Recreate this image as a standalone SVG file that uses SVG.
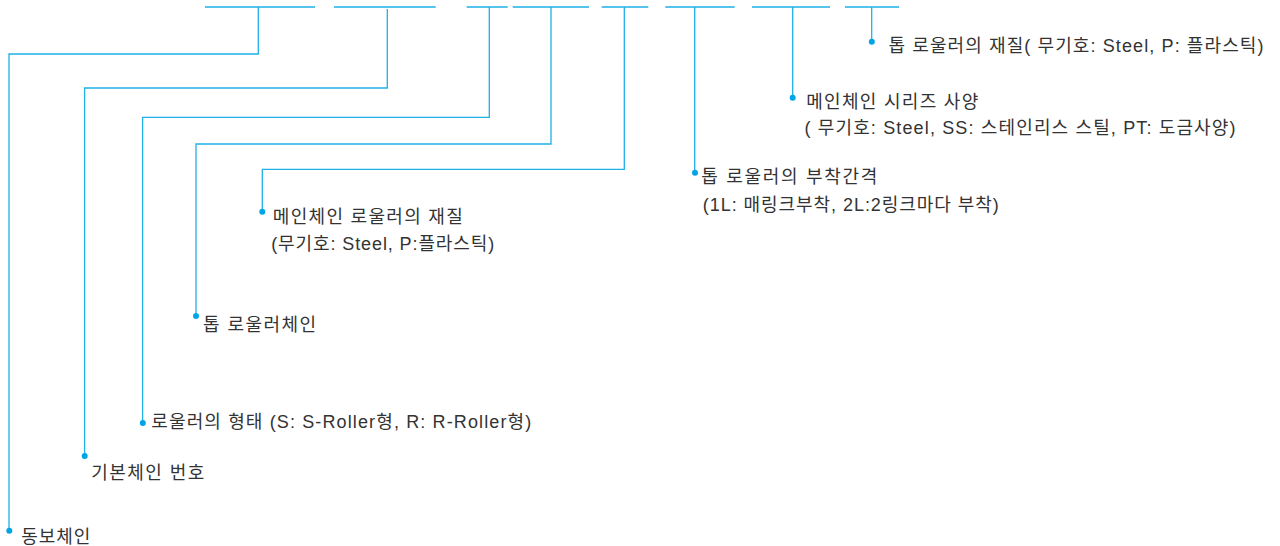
<svg xmlns="http://www.w3.org/2000/svg" width="1280" height="546" viewBox="0 0 1280 546">
<style>
.ln{fill:none;stroke:#1fb0e8;stroke-width:1.3}
.dot{fill:#00a5e6}
.t{font-family:"Liberation Sans","Noto Sans CJK KR",sans-serif;font-size:18px;fill:#333}
</style>
<rect width="1280" height="546" fill="#fff"/>
<g id="connectors">
<path class="ln" d="M205 7H315M334 7H435.7M466.7 7H507.7M512.7 7H589M601.7 7H648.3M665.3 7H734.7M752 7H830M845 7H899"/>
<path class="ln" d="M258.3 7V54H9V530.7"/>
<path class="ln" d="M387.3 9V88H84.6V456"/>
<path class="ln" d="M489.3 7V117.3H142.6V423"/>
<path class="ln" d="M551 7V144H196V316"/>
<path class="ln" d="M624.3 7V169.3H262.3V211.7"/>
<path class="ln" d="M694.7 7V172.7"/>
<path class="ln" d="M792.7 7V97.7"/>
<path class="ln" d="M871.7 7V41.7"/>
</g>
<g id="n1"><circle class="dot" cx="871.8" cy="41.7" r="3"/><text class="t" x="888.5" y="52" textLength="375">톱 로울러의 재질( 무기호: Steel, P: 플라스틱)</text></g>
<g id="n2"><circle class="dot" cx="792.7" cy="97.7" r="3"/><text class="t" x="806.2" y="108" textLength="172">메인체인 시리즈 사양</text><text class="t" x="804.5" y="134" textLength="431">( 무기호: Steel, SS: 스테인리스 스틸, PT: 도금사양)</text></g>
<g id="n3"><circle class="dot" cx="695" cy="172.7" r="3"/><text class="t" x="701.2" y="183" textLength="176">톱 로울러의 부착간격</text><text class="t" x="702.8" y="211" textLength="296">(1L: 매링크부착, 2L:2링크마다 부착)</text></g>
<g id="n4"><circle class="dot" cx="262.3" cy="211.7" r="3"/><text class="t" x="272.8" y="223" textLength="190">메인체인 로울러의 재질</text><text class="t" x="271.2" y="250" textLength="223">(무기호: Steel, P:플라스틱)</text></g>
<g id="n5"><circle class="dot" cx="196" cy="316" r="3"/><text class="t" x="203.1" y="331" textLength="113">톱 로울러체인</text></g>
<g id="n6"><circle class="dot" cx="142.8" cy="423" r="3"/><text class="t" x="151.3" y="428" textLength="380">로울러의 형태 (S: S-Roller형, R: R-Roller형)</text></g>
<g id="n7"><circle class="dot" cx="84.7" cy="456" r="3"/><text class="t" x="91.2" y="479" textLength="113">기본체인 번호</text></g>
<g id="n8"><circle class="dot" cx="9.3" cy="530.7" r="3"/><text class="t" x="21.2" y="543" textLength="69">동보체인</text></g>
</svg>
